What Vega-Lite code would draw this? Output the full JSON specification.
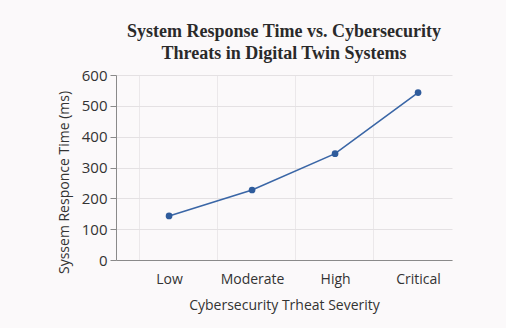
{
  "$schema": "https://vega.github.io/schema/vega-lite/v6.json",
  "width": 336,
  "height": 185,
  "autosize": {"type": "none"},
  "padding": {"left": 116, "top": 75, "right": 54, "bottom": 68},
  "background": "#fbf9fa",
  "title": {
    "text": ["System Response Time vs. Cybersecurity", "Threats in Digital Twin Systems"],
    "font": "Liberation Serif",
    "fontSize": 18,
    "fontWeight": "bold",
    "color": "#2a2a2a",
    "lineHeight": 22,
    "offset": 5,
    "anchor": "middle"
  },
  "data": {
    "values": [
      {"severity": "Low", "time": 143},
      {"severity": "Moderate", "time": 227},
      {"severity": "High", "time": 345},
      {"severity": "Critical", "time": 543}
    ]
  },
  "config": {
    "view": {"stroke": null},
    "axis": {
      "labelFont": "Open Sans",
      "titleFont": "Open Sans",
      "labelColor": "#333333",
      "titleColor": "#333333",
      "labelFontSize": 14,
      "titleFontSize": 14,
      "titleFontWeight": "normal",
      "gridColor": "#e4e1e3",
      "domainColor": "#8a8a8a",
      "tickColor": "#8a8a8a"
    }
  },
  "resolve": {"scale": {"x": "independent"}, "axis": {"x": "independent"}},
  "layer": [
    {
      "mark": {"type": "rule", "opacity": 0},
      "encoding": {
        "x": {
          "field": "severity",
          "type": "nominal",
          "sort": ["Low", "Moderate", "High", "Critical"],
          "scale": {"type": "band", "paddingInner": 0, "paddingOuter": 0.154, "align": 0.96},
          "axis": {
            "orient": "bottom",
            "title": null,
            "labels": false,
            "ticks": false,
            "domain": false,
            "grid": true,
            "bandPosition": 0,
            "gridColor": "#ebe8ea"
          }
        }
      }
    },
    {
      "encoding": {
        "x": {
          "field": "severity",
          "type": "nominal",
          "sort": ["Low", "Moderate", "High", "Critical"],
          "scale": {"type": "point", "padding": 0.524, "align": 0.61},
          "axis": {
            "orient": "bottom",
            "title": "Cybersecurity Trheat Severity",
            "labelAngle": 0,
            "ticks": false,
            "labelPadding": 12,
            "titlePadding": 12,
            "grid": false
          }
        },
        "y": {
          "field": "time",
          "type": "quantitative",
          "scale": {"domain": [0, 600]},
          "axis": {
            "title": "Syssem Responce Time (ms)",
            "values": [0, 100, 200, 300, 400, 500, 600],
            "labelOverlap": false,
            "labelFontSize": 15,
            "tickSize": 6,
            "labelPadding": 3,
            "titlePadding": 10,
            "titleY": 107
          }
        }
      },
      "layer": [
        {"mark": {"type": "line", "color": "#3a66a6", "strokeWidth": 1.6}},
        {"mark": {"type": "point", "filled": true, "color": "#2f5c9c", "size": 45, "opacity": 1}}
      ]
    }
  ]
}
